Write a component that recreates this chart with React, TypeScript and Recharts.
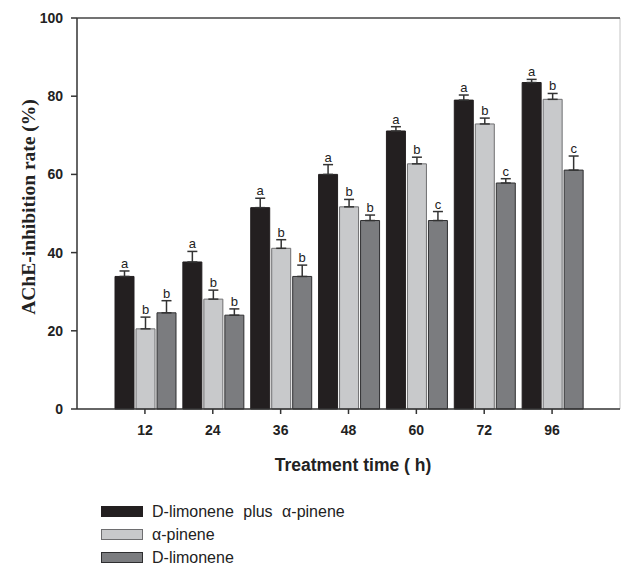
import React from "react"
import { BarChart, Bar, XAxis, YAxis, ErrorBar, LabelList, Legend, ReferenceLine, CartesianGrid } from "recharts"

const times = ["12", "24", "36", "48", "60", "72", "96"]

// D-limonene plus alpha-pinene
const mixVals = [33.9, 37.6, 51.5, 60.0, 71.1, 79.0, 83.5]
const mixErr = [1.4, 2.7, 2.4, 2.5, 1.1, 1.3, 0.8]
const mixLetters = ["a", "a", "a", "a", "a", "a", "a"]

// alpha-pinene
const pinVals = [20.5, 28.1, 41.1, 51.7, 62.7, 72.9, 79.2]
const pinErr = [3.0, 2.3, 2.2, 1.9, 1.7, 1.5, 1.5]
const pinLetters = ["b", "b", "b", "b", "b", "b", "b"]

// D-limonene
const limVals = [24.6, 24.0, 33.9, 48.2, 48.2, 57.8, 61.1]
const limErr = [3.1, 1.6, 2.9, 1.4, 2.3, 1.1, 3.6]
const limLetters = ["b", "b", "b", "b", "c", "c", "c"]

const yTicks = [0, 20, 40, 60, 80, 100]

const data = times.map((t, i) => ({
  time: t,
  mix: mixVals[i],
  mixErr: [0, mixErr[i]],
  mixL: mixLetters[i],
  pin: pinVals[i],
  pinErr: [0, pinErr[i]],
  pinL: pinLetters[i],
  lim: limVals[i],
  limErr: [0, limErr[i]],
  limL: limLetters[i],
}))

const series = [
  { key: "mix", name: "D-limonene plus \u03b1-pinene", fill: "#231f20", stroke: "#231f20", vals: mixVals, errs: mixErr },
  { key: "pin", name: "\u03b1-pinene", fill: "#c8c9cb", stroke: "#6e6e70", vals: pinVals, errs: pinErr },
  { key: "lim", name: "D-limonene", fill: "#7b7c7f", stroke: "#2e2e30", vals: limVals, errs: limErr },
]

const font = "Arial, 'Liberation Sans', sans-serif"

function letterLabel(vals: number[], errs: number[]) {
  return (props: any) => {
    const { x, y, width, height, value, index } = props
    const ppu = height / vals[index]
    const top = y - errs[index] * ppu
    return (
      <text x={x + width / 2} y={top - 3} textAnchor="middle" fontFamily={font} fontSize={13} fill="#222">
        {value}
      </text>
    )
  }
}

function LegendBox() {
  return (
    <div style={{ fontFamily: font, fontSize: 16, color: "#222", wordSpacing: 5 }}>
      {series.map((s) => (
        <div key={s.key} style={{ display: "flex", alignItems: "center", height: 23 }}>
          <span
            style={{
              display: "inline-block",
              width: 40,
              height: 9,
              background: s.fill,
              border: `1px solid ${s.stroke}`,
              marginRight: 9,
            }}
          />
          <span>{s.name}</span>
        </div>
      ))}
    </div>
  )
}

export default function App() {
  return (
    <div style={{ position: "absolute", left: 0, top: 0 }}>
      <BarChart
        width={621}
        height={569}
        data={data}
        margin={{ top: 18, right: 1, left: 27, bottom: 130 }}
        barCategoryGap={4}
        barGap={2}
      >
        <CartesianGrid
          horizontal={false}
          stroke="#c4c4c4"
          verticalCoordinatesGenerator={({ offset }: any) => [offset.left + offset.width]}
        />
        <XAxis
          dataKey="time"
          padding={{ left: 34, right: 34 }}
          stroke="#333"
          strokeWidth={1.5}
          tickSize={5}
          tickMargin={11}
          height={30}
          tick={{ fontFamily: font, fontSize: 14, fontWeight: "bold", fill: "#222" }}
          label={(p: any) => (
            <text x={353} y={471} textAnchor="middle" fontFamily={font} fontSize={17.5} fontWeight="bold" fill="#222">
              Treatment time ( h)
            </text>
          )}
        />
        <YAxis
          domain={[0, 100]}
          ticks={yTicks}
          width={50}
          stroke="#333"
          strokeWidth={1.5}
          tickSize={6}
          tickMargin={8}
          tick={{ fontFamily: font, fontSize: 14, fontWeight: "bold", fill: "#222" }}
          label={(p: any) => (
            <text
              x={35}
              y={207}
              transform="rotate(-90 35 207)"
              textAnchor="middle"
              fontFamily="'Liberation Serif', 'Times New Roman', serif"
              fontSize={19.5}
              fontWeight="bold"
              fill="#222"
            >
              AChE-inhibition rate (%)
            </text>
          )}
        />
        <ReferenceLine y={100} stroke="#444" strokeWidth={1.5} />
        {series.map((s) => (
          <Bar
            key={s.key}
            dataKey={s.key}
            name={s.name}
            fill={s.fill}
            stroke={s.stroke}
            strokeWidth={1}
            isAnimationActive={false}
          >
            <ErrorBar dataKey={`${s.key}Err`} width={5} stroke="#333" strokeWidth={1.5} direction="y" />
            <LabelList dataKey={`${s.key}L`} content={letterLabel(s.vals, s.errs)} />
          </Bar>
        ))}
        <Legend
          layout="vertical"
          align="center"
          verticalAlign="middle"
          wrapperStyle={{ position: "absolute", left: 101, top: 500, width: 360 }}
          content={() => <LegendBox />}
        />
      </BarChart>
    </div>
  )
}
